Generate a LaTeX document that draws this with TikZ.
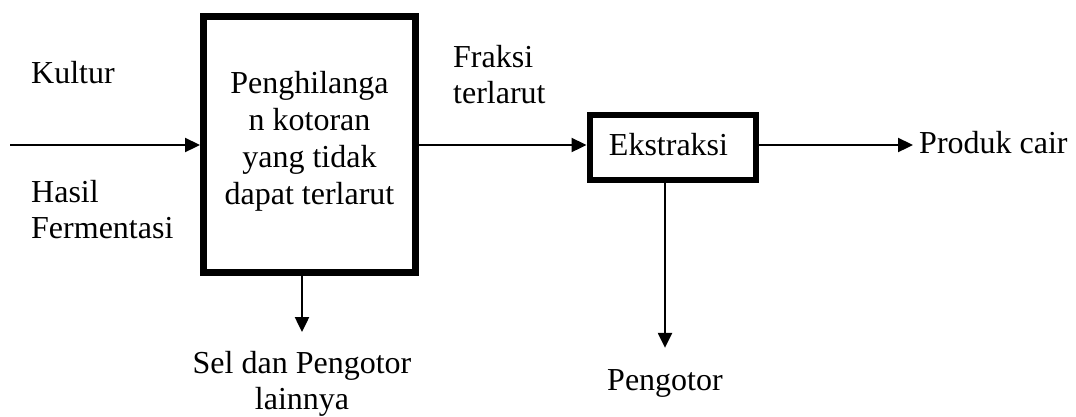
\documentclass[tikz,border=0pt]{standalone}
\usepackage{fontspec}
\setmainfont{Liberation Serif}
\usetikzlibrary{arrows.meta}
\begin{document}
\begin{tikzpicture}[x=1pt,y=-1pt,
  every node/.style={font=\fontsize{32}{36.8}\selectfont, inner sep=0pt, text=black},
  procbox/.style={draw=black, line width=7pt, minimum width=212pt, minimum height=256pt, align=center},
  smallbox/.style={draw=black, line width=6pt, minimum width=166pt, minimum height=65pt, text height=22pt, text depth=6pt},
  arrline/.style={draw=black, line width=2.3pt, -{Triangle[length=15pt,width=14pt]}}
]
\useasboundingbox (0,0) rectangle (1076,416);

\node[procbox] (box) at (309.5,144.5) {\begin{tabular}{@{}c@{}}Penghilanga\\n kotoran\\yang tidak\\dapat terlarut\rule[-16.6pt]{0pt}{1pt}\end{tabular}};
\node[smallbox] (eks) at (672.5,147) {\hspace*{-8pt}Ekstraksi};

\node[anchor=base west] (kultur) at (31,83) {Kultur};
\node[anchor=base west] (hasil) at (31,202) {\begin{tabular}[t]{@{}l@{}}Hasil\\Fermentasi\end{tabular}};
\node[anchor=base west] (fraksi) at (453,67) {\begin{tabular}[t]{@{}l@{}}Fraksi\\terlarut\end{tabular}};
\node[anchor=base west] (prod) at (919,153) {Produk cair};
\node[anchor=base] (sel) at (302,373) {\begin{tabular}[t]{@{}c@{}}Sel dan Pengotor\\lainnya\end{tabular}};
\node[anchor=base] (peng) at (665,390) {Pengotor};

\coordinate (in) at (10,145);
\draw[arrline] (in) -- (in -| box.west);
\draw[arrline] (box.east |- in) -- (eks.west |- in);
\draw[arrline, shorten >=6pt] (eks.east |- in) -- (prod.west |- in);
\draw[arrline, shorten >=15pt] (box.south -| sel.north) -- (sel.north);
\draw[arrline, shorten >=21pt] (eks.south -| peng.north) -- (peng.north);
\end{tikzpicture}
\end{document}
